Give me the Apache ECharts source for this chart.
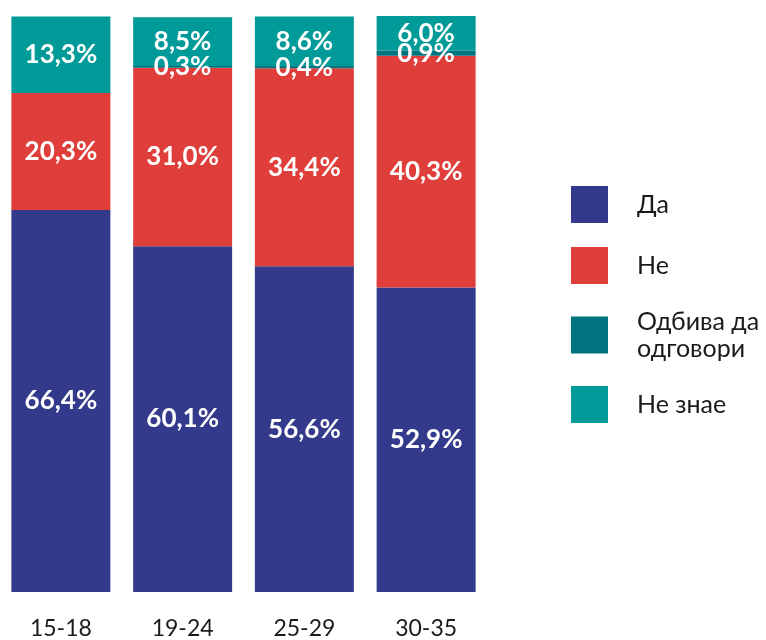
<!DOCTYPE html>
<html><head><meta charset="utf-8">
<script src="https://cdn.jsdelivr.net/npm/echarts@6/dist/echarts.min.js"></script>
<style>html,body{margin:0;padding:0;background:#fff}#c{width:766px;height:640px}</style>
</head><body><div id="c"></div>
<script>
const categories = ['15-18', '19-24', '25-29', '30-35'];
const seriesNames = ['Да', 'Не', 'Одбива да\nодговори', 'Не знае'];
const da = [66.4, 60.1, 56.6, 52.9];
const ne = [20.3, 31.0, 34.4, 40.3];
const odbiva = [null, 0.3, 0.4, 0.9];
const neZnae = [13.3, 8.5, 8.6, 6.0];
const colors = ['#343a8b', '#e03e3a', '#00737f', '#009a99'];
const FONT = 'Lato';

const chart = echarts.init(document.getElementById('c'));
const values = [da, ne, odbiva, neZnae];
const fmt = p => p.value == null ? '' : p.value.toFixed(1).replace('.', ',') + '%';
chart.setOption({
  animation: false,
  textStyle: { fontFamily: FONT },
  grid: { left: 0, top: 16, width: 487, height: 577, containLabel: false },
  xAxis: {
    type: 'category', data: categories,
    axisLine: { show: false }, axisTick: { show: false },
    axisLabel: { margin: 25, fontSize: 23, color: '#1a1a1a', fontFamily: FONT }
  },
  yAxis: { type: 'value', min: 0, max: 100.1, show: false, splitLine: { show: false } },
  legend: {
    orient: 'vertical', left: 571, top: 186, padding: 0,
    itemWidth: 37, itemHeight: 37, itemGap: 24,
    icon: 'rect',
    data: seriesNames,
    textStyle: { fontSize: 25, color: '#1a1a1a', lineHeight: 27, padding: [0, 0, 0, 24], fontFamily: FONT }
  },
  series: seriesNames.map((n, i) => ({
    name: n, type: 'bar', stack: 'total', data: values[i],
    barWidth: 99,
    itemStyle: { color: colors[i] },
    label: { show: true, position: 'inside', formatter: fmt, color: '#fff', fontWeight: 'bold', fontSize: 26, lineHeight: 26, fontFamily: FONT }
  }))
});
</script></body></html>
